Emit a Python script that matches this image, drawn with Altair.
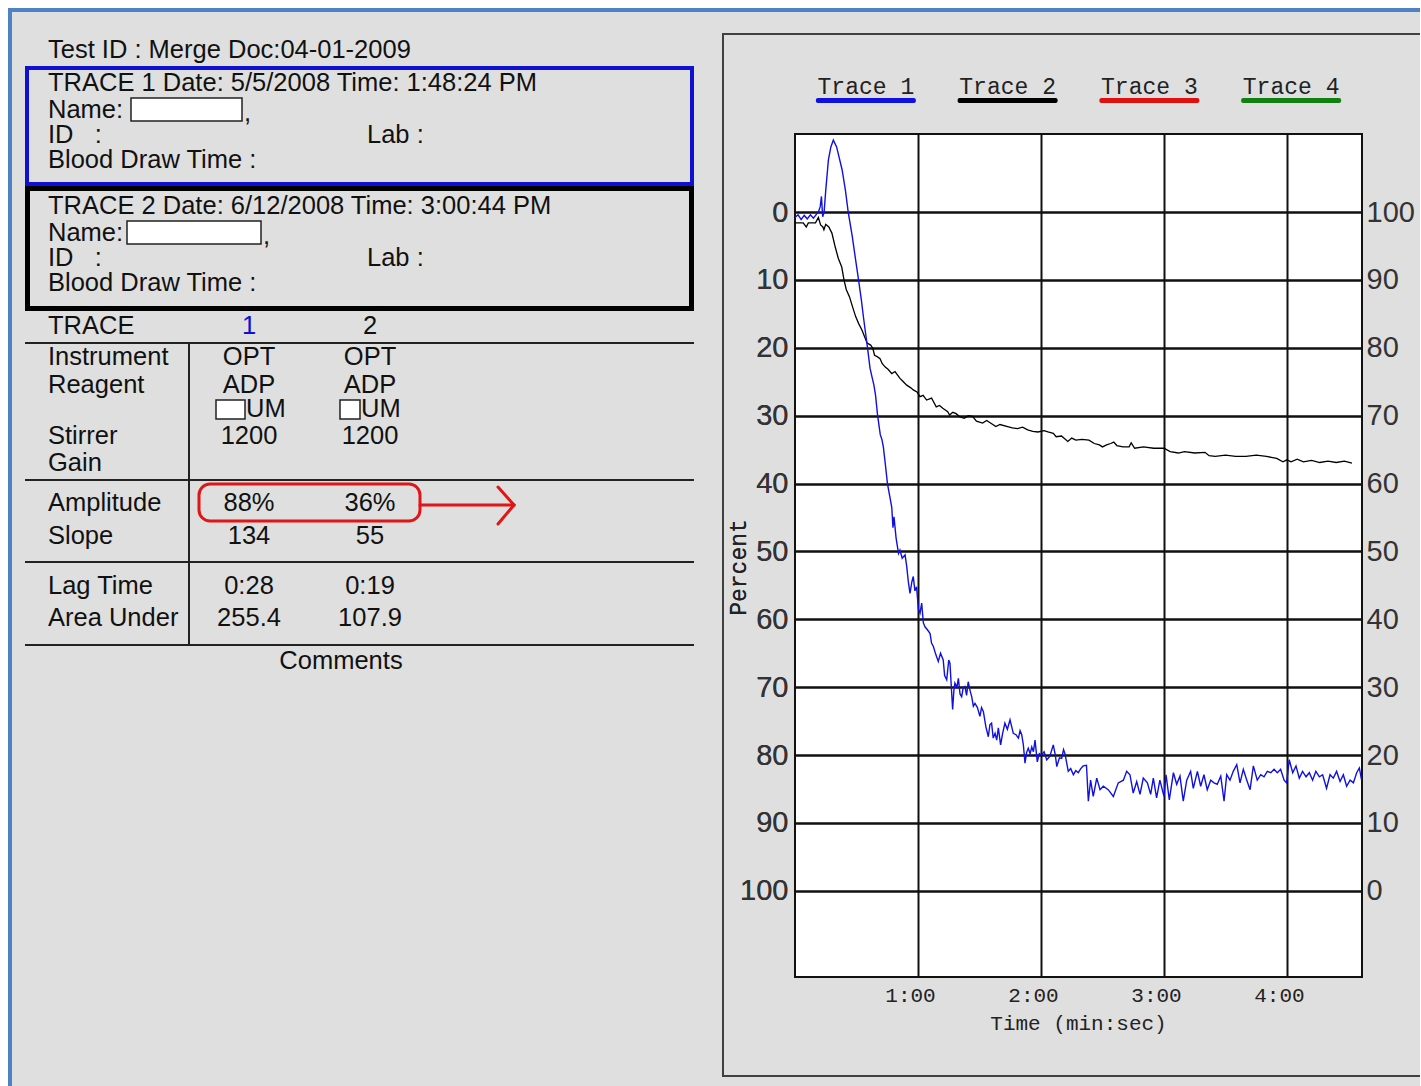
import altair as alt
import pandas as pd

# ---------------------------------------------------------------- data
TEST_ID = "Test ID : Merge Doc:04-01-2009"
TRACE_NUMBERS = [1, 2]
TRACE_DATES = ["5/5/2008", "6/12/2008"]
TRACE_TIMES = ["1:48:24 PM", "3:00:44 PM"]
INFO_FIELDS = ["Name:", "ID\u00a0\u00a0\u00a0:", "Lab :", "Blood Draw Time :"]

ROW_LABELS = ["Instrument", "Reagent", "Stirrer", "Gain",
              "Amplitude", "Slope", "Lag Time", "Area Under"]
INSTRUMENT = ["OPT", "OPT"]
REAGENT = ["ADP", "ADP"]
DOSE_UNIT = ["UM", "UM"]
STIRRER = ["1200", "1200"]
GAIN = ["", ""]
AMPLITUDE = ["88%", "36%"]
SLOPE = ["134", "55"]
LAG_TIME = ["0:28", "0:19"]
AREA_UNDER = ["255.4", "107.9"]
COMMENTS = "Comments"

LEGEND_NAMES = ["Trace 1", "Trace 2", "Trace 3", "Trace 4"]

Y_TICKS = [0, 10, 20, 30, 40, 50, 60, 70, 80, 90, 100]
X_TICKS = [60, 120, 180, 240]

# trace 1 (blue): time in seconds, percent
T1_TIME = [0.0, 1.5, 3.0, 4.5, 6.0, 7.5, 9.0, 10.5, 11.5, 12.3, 12.9, 13.5, 14.2, 15.0, 16.3,
           17.5, 18.7, 20.3, 21.5, 23.0, 24.6, 26.0, 27.9, 29.5, 31.0, 32.4, 33.4, 34.5, 35.5,
           36.6, 37.5, 38.5, 39.3, 40.2, 41.0, 41.6, 42.4, 43.1, 44.2, 45.1, 46.3, 47.2, 47.8,
           48.3, 49.3, 50.5, 51.2, 52.3, 53.7, 54.5, 55.3, 56.1, 57.0, 57.7, 58.5, 59.3, 60.2,
           61.0, 61.8, 62.6, 63.4, 64.5, 65.9, 66.6, 67.5, 68.7, 69.9, 71.0, 72.3, 73.0, 74.0,
           75.0, 75.6, 76.9, 77.5, 78.0, 79.0, 79.7, 80.5, 81.3, 82.1, 82.9, 83.7, 84.5, 85.4,
           86.2, 87.0, 87.8, 89.0, 90.2, 91.0, 91.9, 93.1, 94.3, 95.1, 95.9, 96.7, 97.6, 98.4,
           99.2, 100.3, 101.3, 102.4, 103.6, 104.9, 105.7, 106.5, 107.8, 109.0, 109.8, 110.6,
           111.4, 112.2, 113.0, 113.8, 114.7, 115.5, 116.3, 117.1, 118.2, 119.2, 120.3, 121.5,
           122.8, 124.3, 126.0, 127.0, 127.7, 129.0, 130.1, 131.0, 131.7, 133.3, 134.5, 135.8,
           137.0, 138.2, 139.4, 140.6, 142.2, 143.1, 144.2, 145.5, 147.2, 148.8, 150.4, 152.8,
           155.3, 157.7, 160.2, 161.8, 163.4, 165.0, 166.7, 168.3, 169.9, 171.9, 173.5, 174.8,
           176.4, 178.0, 180.0, 181.0, 182.6, 184.6, 186.2, 187.8, 189.4, 191.1, 193.0, 194.3,
           196.3, 197.9, 199.5, 201.1, 202.8, 204.4, 206.0, 207.7, 209.3, 210.6, 212.2, 213.8,
           215.5, 217.1, 218.7, 220.4, 222.0, 223.6, 225.5, 227.2, 228.8, 230.4, 232.1, 233.7,
           235.3, 236.9, 238.6, 239.8, 241.1, 242.8, 244.4, 246.0, 247.6, 249.3, 250.9, 252.5,
           254.1, 255.8, 257.4, 259.3, 261.0, 262.6, 264.2, 265.9, 267.5, 269.1, 270.8, 272.4,
           274.0, 275.3, 276.4]
T1_PCT = [0.8, 0.4, 1.1, 0.5, 1.0, 0.4, 0.9, 0.3, -0.1, -0.8, -2.3, 0.7, 0.0, -3.2, -7.7,
          -9.6, -10.6, -9.6, -8.1, -6.2, -3.2, 0.1, 3.5, 6.9, 10.0, 13.0, 15.5, 18.0, 20.3,
          23.0, 24.2, 25.5, 27.0, 29.7, 31.5, 32.8, 33.5, 34.6, 37.5, 40.0, 42.0, 43.5, 46.5,
          44.9, 48.0, 50.3, 49.8, 51.0, 50.5, 52.2, 54.5, 56.2, 54.5, 53.7, 55.8, 55.2, 58.5,
          59.1, 57.6, 60.5, 61.1, 61.5, 62.1, 63.5, 64.0, 65.2, 66.2, 65.0, 66.0, 68.3, 68.9,
          66.0, 66.5, 73.3, 70.5, 69.4, 70.0, 68.7, 71.0, 71.4, 70.0, 69.9, 71.2, 69.2, 70.5,
          71.4, 72.8, 72.4, 73.0, 74.3, 73.0, 73.6, 75.8, 77.3, 75.5, 75.3, 77.5, 76.8, 77.8,
          76.0, 78.5, 76.8, 75.3, 76.2, 74.8, 75.8, 76.8, 77.0, 77.5, 76.4, 77.0,
          78.5, 81.2, 79.6, 79.0, 79.8, 78.8, 79.5, 77.8, 81.0, 79.8, 80.0, 79.5,
          80.7, 80.2, 78.5, 80.0, 81.7, 80.4, 80.5, 79.2, 79.8, 82.4, 82.0, 82.9,
          82.3, 82.6, 82.0, 81.6, 81.5, 86.8, 83.7, 86.1, 83.4, 85.1, 84.6, 85.1,
          86.1, 84.1, 83.7, 82.4, 82.9, 85.6, 83.9, 85.8, 83.4, 84.1, 85.8, 83.4,
          86.3, 83.7, 86.1, 82.9, 86.6, 82.6, 84.3, 83.1, 86.8, 83.7, 82.4, 84.9,
          82.4, 84.6, 82.9, 85.1, 83.7, 84.1, 84.3, 83.1, 86.8, 82.9, 83.7, 82.4,
          81.4, 84.1, 82.1, 83.7, 85.1, 81.6, 83.7, 82.9, 83.2, 82.4, 82.6, 82.1,
          82.6, 82.1, 83.7, 84.1, 80.7, 82.6, 81.6, 83.4, 82.4, 83.2, 82.6, 83.7,
          82.4, 83.2, 82.9, 84.9, 82.9, 83.4, 82.4, 83.9, 82.9, 84.6, 83.7, 84.1,
          82.6, 81.9, 83.7]

# trace 2 (black)
T2_TIME = [0.0, 2.0, 4.0, 5.5, 6.5, 8.0, 10.0, 11.4, 12.5, 13.6, 14.1, 15.0, 16.5, 18.0,
           19.5, 21.1, 22.8, 23.9, 25.0, 26.6, 28.0, 29.6, 31.0, 32.7, 34.0, 35.2, 36.9, 38.0,
           38.8, 40.1, 41.5, 42.5, 43.9, 45.5, 47.2, 48.8, 51.2, 52.5, 54.5, 56.5, 57.7, 59.5,
           61.0, 62.5, 64.2, 66.6, 68.9, 70.5, 72.1, 74.5, 75.4, 77.0, 78.6, 80.5, 82.6, 84.5,
           86.6, 88.5, 91.5, 93.5, 95.0, 98.0, 100.0, 103.7, 106.0, 108.5, 111.0, 113.5, 116.0,
           118.5, 121.5, 123.4, 126.0, 127.4, 130.0, 133.1, 135.0, 137.0, 140.0, 143.4, 146.0,
           148.5, 150.0, 152.0, 154.0, 155.5, 157.0, 160.0, 163.0, 164.0, 165.7, 170.0, 175.0,
           180.0, 183.0, 187.0, 190.0, 195.0, 200.0, 202.0, 205.0, 210.0, 215.0, 220.0, 225.0,
           230.0, 235.0, 238.0, 240.0, 242.0, 245.0, 248.0, 252.0, 256.0, 260.0, 264.0, 268.0,
           271.7]
T2_PCT = [1.6, 1.6, 1.6, 2.2, 1.6, 1.6, 1.6, 0.8, 1.9, 2.2, 2.6, 1.8, 2.2, 3.1,
          5.0, 6.8, 8.1, 10.0, 11.4, 12.5, 13.9, 15.4, 16.4, 17.4, 18.4, 19.3, 19.6, 20.1,
          21.1, 21.3, 21.6, 22.3, 22.8, 23.2, 23.8, 23.5, 24.5, 24.9, 25.5, 25.9, 26.2, 26.5,
          27.2, 27.0, 27.7, 27.4, 28.7, 28.5, 28.9, 29.4, 29.9, 29.5, 29.7, 30.2, 30.4, 30.0,
          30.1, 30.8, 31.1, 30.7, 31.0, 31.6, 31.3, 31.6, 31.8, 31.9, 31.7, 32.1, 32.3,
          32.4, 32.2, 32.4, 32.6, 33.1, 33.0, 33.8, 33.3, 33.6, 33.5, 33.6, 34.1,
          34.3, 34.6, 34.3, 34.1, 33.9, 34.4, 34.6, 34.6, 34.0, 34.8, 34.6, 34.8,
          34.8, 35.3, 35.5, 35.3, 35.5, 35.4, 35.9, 36.0, 35.8, 36.0, 36.0, 35.8,
          36.0, 36.3, 36.8, 36.5, 36.8, 36.4, 36.8, 36.6, 36.9, 36.7, 36.9, 36.7,
          37.0]

# ---------------------------------------------------------------- styles / layout
SANS = "Liberation Sans, Arial, sans-serif"
MONO = "Courier New, Liberation Mono, monospace"
INK = "#111111"
BG = "#dfdfdf"
TRACE_COLORS = ["#1a1acc", "#000000"]
LEGEND_COLORS = ["#1010e0", "#000000", "#e01010", "#108010"]
BOX_COLORS = ["#1010d0", "#000000"]
TEXT_SIZE = 25.5

LW, LH = 700, 1086          # left report panel
PW, PH = 567, 843           # plot area
Y_DOM = [-11.5, 112.7]
X_DOM = [0, 276.6]

TX = 48
COL_X = [249, 370]
LAB_X = 367
HEAD_Y = [83, 206]
LINE_DY = [27, 52, 77]
NAME_BOX_X = [(131, 242), (127, 261)]
ROW_Y = [357, 385, 436, 463, 503, 536, 586, 618]
DOSE_Y = 409
DOSE_BOX_X = [(216, 245), (340, 360)]

# ---------------------------------------------------------------- left panel tables
texts = []


def add(x, y, t, anchor="left", color=INK):
    texts.append({"x": x, "y": y, "t": t, "anchor": anchor, "color": color})


add(TX, 50, TEST_ID)
for i, n in enumerate(TRACE_NUMBERS):
    y0 = HEAD_Y[i]
    add(TX, y0, f"TRACE {n} Date: {TRACE_DATES[i]} Time: {TRACE_TIMES[i]}")
    add(TX, y0 + LINE_DY[0], INFO_FIELDS[0])
    add(NAME_BOX_X[i][1] + 2, y0 + LINE_DY[0] + 3, ",")
    add(TX, y0 + LINE_DY[1], INFO_FIELDS[1])
    add(LAB_X, y0 + LINE_DY[1], INFO_FIELDS[2])
    add(TX, y0 + LINE_DY[2], INFO_FIELDS[3])

add(TX, 326, "TRACE")
for i, n in enumerate(TRACE_NUMBERS):
    add(COL_X[i], 326, str(n), "center", "#1010d0" if i == 0 else INK)

row_values = [INSTRUMENT, REAGENT, STIRRER, GAIN, AMPLITUDE, SLOPE, LAG_TIME, AREA_UNDER]
for label, yy, vals in zip(ROW_LABELS, ROW_Y, row_values):
    add(TX, yy, label)
    for i, v in enumerate(vals):
        if v:
            add(COL_X[i], yy, v, "center")
for i, u in enumerate(DOSE_UNIT):
    add(DOSE_BOX_X[i][1] + 1, DOSE_Y, u)
add(341, 661, COMMENTS, "center")
text_df = pd.DataFrame(texts)

rects = []


def rect(x, x2, y, y2, fill="transparent", stroke="transparent", sw=0):
    rects.append({"x": x, "x2": x2, "y": y, "y2": y2, "fill": fill, "stroke": stroke, "sw": sw})


# window frame
rect(0, 8, 0, LH, fill="white")
rect(0, 1420, 0, 8, fill="white")
rect(8, 12, 8, LH, fill="#4f82c4")
rect(8, 1420, 8, 12, fill="#4f82c4")
# right panel frame
rect(722, 724, 33, 1077, fill="#404040")
rect(722, 1420, 33, 35, fill="#404040")
rect(722, 1420, 1075, 1077, fill="#404040")
# trace boxes
rect(27, 692, 68, 184, stroke=BOX_COLORS[0], sw=4)
rect(27.5, 691.5, 188.5, 308.5, stroke=BOX_COLORS[1], sw=5)
for i in range(2):
    y0 = HEAD_Y[i] + LINE_DY[0]
    rect(NAME_BOX_X[i][0], NAME_BOX_X[i][1], y0 - 12, y0 + 11, fill="white", stroke="#222222", sw=1.5)
    rect(DOSE_BOX_X[i][0], DOSE_BOX_X[i][1], DOSE_Y - 9, DOSE_Y + 10, fill="white", stroke="#222222", sw=1.5)
rect_df = pd.DataFrame(rects)

rule_df = pd.DataFrame({
    "x": [25, 25, 25, 25, 189],
    "x2": [694, 694, 694, 694, 189],
    "y": [343, 480, 562, 645, 343],
    "y2": [343, 480, 562, 645, 645],
})
arrow_df = pd.DataFrame({
    "x": [420, 498, 498], "x2": [514, 514, 514],
    "y": [505, 487, 524], "y2": [505, 505, 505],
})
redbox_df = pd.DataFrame({"x": [199], "x2": [420], "y": [484], "y2": [521]})

lx = alt.Scale(domain=[0, LW], nice=False, zero=False)
ly = alt.Scale(domain=[0, LH], nice=False, zero=False, reverse=True)

frame_layer = alt.Chart(rect_df).mark_rect().encode(
    x=alt.X("x:Q", scale=lx, axis=None), x2="x2:Q",
    y=alt.Y("y:Q", scale=ly, axis=None), y2="y2:Q",
    fill=alt.Fill("fill:N", scale=None),
    stroke=alt.Stroke("stroke:N", scale=None),
    strokeWidth=alt.StrokeWidth("sw:Q", scale=None),
)
rule_layer = alt.Chart(rule_df).mark_rule(color="#222222", strokeWidth=2).encode(
    x=alt.X("x:Q", scale=lx, axis=None), x2="x2:Q",
    y=alt.Y("y:Q", scale=ly, axis=None), y2="y2:Q",
)
redbox_layer = alt.Chart(redbox_df).mark_rect(
    fill="transparent", stroke="#e01515", strokeWidth=3, cornerRadius=11
).encode(
    x=alt.X("x:Q", scale=lx, axis=None), x2="x2:Q",
    y=alt.Y("y:Q", scale=ly, axis=None), y2="y2:Q",
)
arrow_layer = alt.Chart(arrow_df).mark_rule(color="#e01515", strokeWidth=3, strokeCap="round").encode(
    x=alt.X("x:Q", scale=lx, axis=None), x2="x2:Q",
    y=alt.Y("y:Q", scale=ly, axis=None), y2="y2:Q",
)


def text_layer(anchor):
    return alt.Chart(text_df).transform_filter(
        alt.datum.anchor == anchor
    ).mark_text(font=SANS, fontSize=TEXT_SIZE, align=anchor, baseline="middle").encode(
        x=alt.X("x:Q", scale=lx, axis=None),
        y=alt.Y("y:Q", scale=ly, axis=None),
        text="t:N",
        color=alt.Color("color:N", scale=None),
    )


left = alt.layer(
    frame_layer, rule_layer, redbox_layer, arrow_layer,
    text_layer("left"), text_layer("center"),
).properties(width=LW, height=LH)

# ---------------------------------------------------------------- legend strip
legend_df = pd.DataFrame({"trace": LEGEND_NAMES})
lgx = alt.Scale(type="band", domain=LEGEND_NAMES, paddingInner=0, paddingOuter=0)
leg_text = alt.Chart(legend_df).mark_text(
    font=MONO, fontSize=23, baseline="middle", align="center", color="#222222"
).encode(
    x=alt.X("trace:N", scale=lgx, axis=None),
    y=alt.value(87),
    text="trace:N",
)
leg_bar = alt.Chart(legend_df).mark_bar(size=100, cornerRadius=2).encode(
    x=alt.X("trace:N", scale=lgx, axis=None),
    y=alt.value(98), y2=alt.value(103),
    color=alt.Color("trace:N", scale=alt.Scale(domain=LEGEND_NAMES, range=LEGEND_COLORS), legend=None),
)
legend = alt.layer(leg_text, leg_bar).properties(width=PW, height=124)

# ---------------------------------------------------------------- plot
trace_df = pd.concat([
    pd.DataFrame({"time": T1_TIME, "pct": T1_PCT, "trace": "Trace 1"}),
    pd.DataFrame({"time": T2_TIME, "pct": T2_PCT, "trace": "Trace 2"}),
])
xs = alt.Scale(domain=X_DOM, nice=False, zero=False)
ys = alt.Scale(domain=Y_DOM, nice=False, zero=False, reverse=True)
color_scale = alt.Scale(domain=["Trace 1", "Trace 2"], range=TRACE_COLORS)

x_axis = alt.Axis(
    values=X_TICKS, grid=True, gridColor="#111111", gridWidth=2, gridOpacity=1,
    domain=False, ticks=False, tickSize=0,
    labelExpr="floor(datum.value / 60) + ':' + (datum.value % 60 < 10 ? '0' : '') + (datum.value % 60)",
    labelFont=MONO, labelFontSize=21, labelColor="#222222", labelPadding=7, labelOffset=-8,
    title="Time (min:sec)", titleFont=MONO, titleFontSize=21, titleFontWeight="normal",
    titleColor="#222222", titleX=283, titleY=46, titleBaseline="middle", titleAlign="center",
)
y_axis_left = alt.Axis(
    orient="left", values=Y_TICKS, grid=True, gridColor="#111111", gridWidth=2, gridOpacity=1,
    domain=False, ticks=False, tickSize=0,
    labelFont=SANS, labelFontSize=29, labelColor="#333333", labelPadding=7,
    title="Percent", titleFont=MONO, titleFontSize=23, titleFontWeight="normal",
    titleColor="#222222", titleX=-57, titleY=433, titleAngle=270,
    titleBaseline="middle", titleAlign="center",
)
y_axis_right = alt.Axis(
    orient="right", values=Y_TICKS, grid=False, domain=False, ticks=False, tickSize=0,
    labelExpr="100 - datum.value",
    labelFont=SANS, labelFontSize=29, labelColor="#333333", labelPadding=4, title="",
)

trace2_line = alt.Chart(trace_df).transform_filter(alt.datum.trace == "Trace 2").mark_line(
    strokeWidth=1.3, clip=True
).encode(
    x=alt.X("time:Q", scale=xs, axis=x_axis),
    y=alt.Y("pct:Q", scale=ys, axis=y_axis_left),
    color=alt.Color("trace:N", scale=color_scale, legend=None),
)
trace1_line = alt.Chart(trace_df).transform_filter(alt.datum.trace == "Trace 1").mark_line(
    strokeWidth=1.4, clip=True
).encode(
    x=alt.X("time:Q", scale=xs, axis=x_axis),
    y=alt.Y("pct:Q", scale=ys, axis=y_axis_left),
    color=alt.Color("trace:N", scale=color_scale, legend=None),
)
right_axis_layer = alt.Chart(trace_df).mark_line(opacity=0).encode(
    x=alt.X("time:Q", scale=xs, axis=x_axis),
    y=alt.Y("pct:Q", scale=ys, axis=y_axis_right),
    detail="trace:N",
)

plot = alt.layer(trace2_line, trace1_line, right_axis_layer).resolve_axis(
    y="independent"
).properties(
    width=PW, height=PH,
    view=alt.ViewBackground(fill="white", stroke="#111111", strokeWidth=2),
)

right = alt.vconcat(legend, plot, spacing=10, bounds="flush")

chart = alt.hconcat(left, right, spacing=95, bounds="flush").properties(
    padding=0, background=BG
).configure_view(stroke=None)

chart.save("out.html", embed_options={"renderer": "svg", "actions": False})
